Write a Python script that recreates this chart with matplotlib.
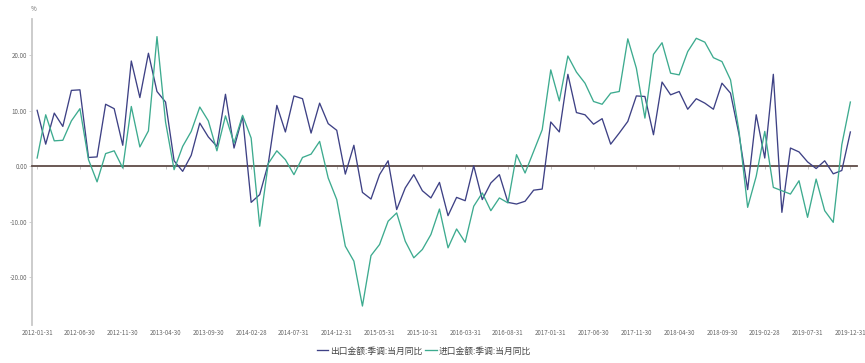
import pandas as pd
import matplotlib
matplotlib.use("Agg")
import matplotlib.pyplot as plt

plt.rcParams['font.family'] = ['Noto Sans CJK SC', 'DejaVu Sans']

dates = pd.date_range("2012-01-31", "2019-12-31", freq="ME")

export_yoy = [10.1, 4.0, 9.6, 7.2, 13.7, 13.8, 1.6, 1.7, 11.2, 10.4,
              3.8, 19.0, 12.4, 20.4, 13.5, 11.6, 1.0, -0.9, 2.0, 7.8,
              5.3, 3.6, 13.0, 3.3, 9.0, -6.5, -5.1, 0.5, 11.0, 6.2,
              12.7, 12.2, 6.0, 11.4, 7.7, 6.5, -1.4, 3.8, -4.7, -5.9,
              -1.5, 1.0, -7.8, -3.9, -1.5, -4.4, -5.7, -2.9, -8.9, -5.6,
              -6.2, 0.1, -6.0, -3.0, -1.5, -6.5, -6.8, -6.3, -4.3, -4.1,
              8.0, 6.2, 16.6, 9.7, 9.3, 7.6, 8.6, 4.0, 6.0, 8.1,
              12.7, 12.6, 5.7, 15.2, 12.9, 13.5, 10.3, 12.2, 11.4, 10.3,
              15.0, 13.2, 5.7, -4.2, 9.3, 1.5, 16.6, -8.3, 3.3, 2.6,
              0.8, -0.4, 1.0, -1.35, -0.75, 6.2]

import_yoy = [1.5, 9.3, 4.6, 4.7, 8.2, 10.4, 1.2, -2.8, 2.3, 2.8,
              -0.3, 10.8, 3.5, 6.4, 23.4, 8.0, -0.6, 3.6, 6.3, 10.7,
              8.2, 2.8, 9.1, 4.2, 9.2, 5.1, -10.8, 0.5, 2.8, 1.2,
              -1.5, 1.6, 2.2, 4.5, -2.1, -6.0, -14.4, -17.1, -25.2, -16.1,
              -14.1, -9.9, -8.4, -13.5, -16.5, -15.0, -12.3, -7.7, -14.7, -11.3,
              -13.7, -7.2, -4.8, -8.0, -5.7, -6.6, 2.1, -1.2, 2.7, 6.6,
              17.4, 11.8, 19.9, 17.0, 15.0, 11.7, 11.2, 13.2, 13.5, 23.0,
              17.7, 8.7, 20.2, 22.3, 16.8, 16.5, 20.7, 23.1, 22.4, 19.6,
              18.9, 15.6, 6.3, -7.4, -1.8, 6.3, -3.8, -4.4, -5.0, -2.6,
              -9.2, -2.3, -8.0, -10.1, 3.9, 11.6]

series_names = ["出口金额:季调:当月同比", "进口金额:季调:当月同比"]
y_ticks = [-20, -10, 0, 10, 20]

x = list(range(len(dates)))
labels = [d.strftime("%Y-%m-%d") for d in dates]
tick_pos = x[::5]

fig = plt.figure(figsize=(8.65, 3.63), dpi=100)
ax = fig.add_axes([0.037, 0.105, 0.954, 0.843])

ax.plot(x, export_yoy, color="#3e4185", lw=0.95, label=series_names[0], zorder=3)
ax.plot(x, import_yoy, color="#3dab8f", lw=0.95, label=series_names[1], zorder=3)

ax.set_xlim(-0.6, 95.8)
ax.set_ylim(-28.6, 26.6)

for s in ["top", "right"]:
    ax.spines[s].set_visible(False)
ax.spines["left"].set_color("#c8c8c8")
ax.spines["left"].set_linewidth(1.3)
ax.spines["bottom"].set_position(("data", 0))
ax.spines["bottom"].set_color("#5e4b47")
ax.spines["bottom"].set_linewidth(1.3)

ax.set_yticks(y_ticks)
ax.set_yticklabels([f"{v:.2f}" for v in y_ticks])
ax.tick_params(axis="y", length=2, width=0.6, color="#c8c8c8",
               labelsize=4.5, labelcolor="#666666", pad=1.5)

ax.set_xticks(tick_pos)
ax.tick_params(axis="x", length=2.5, width=0.6, color="#bbbbbb", labelbottom=False)

sec = ax.secondary_xaxis(0)
sec.set_xticks(tick_pos)
sec.set_xticklabels([labels[i] for i in tick_pos])
sec.spines["bottom"].set_visible(False)
sec.tick_params(length=0, labelsize=4.4, labelcolor="#666666", pad=3)

fig.text(0.035, 0.975, "%", fontsize=4.5, color="#666666", ha="left", va="center")

ax.legend(loc="upper center", bbox_to_anchor=(0.475, -0.045), ncol=2, frameon=False,
          fontsize=6.3, handlelength=1.3, handletextpad=0.25, columnspacing=0.3,
          labelcolor="#444444")

fig.savefig("out.png", dpi=100)
